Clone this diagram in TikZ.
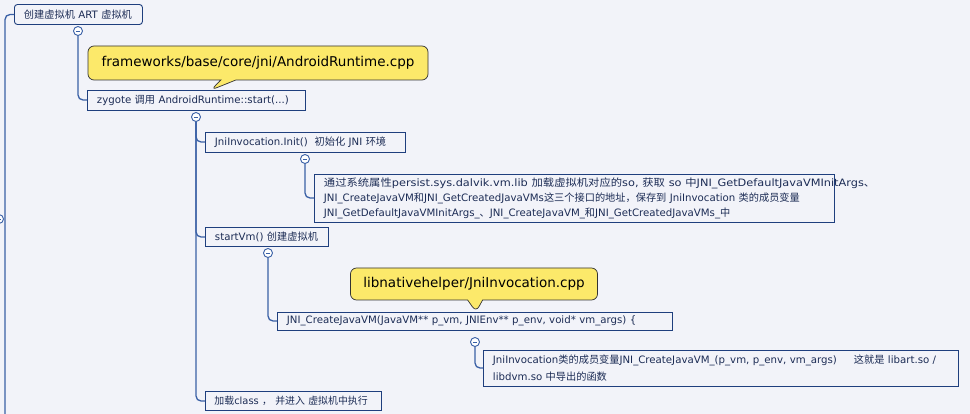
\documentclass[tikz,border=0pt]{standalone}
\usepackage{fontspec}
\setmainfont{DejaVu Sans}
\newfontfamily\cjk{Noto Sans CJK SC}
\usetikzlibrary{shapes.callouts}
\definecolor{bg}{HTML}{F2F3F9}
\definecolor{boxcol}{HTML}{1F3F7E}
\definecolor{linecol}{HTML}{3A60A6}
\definecolor{txtcol}{HTML}{1C2C55}
\definecolor{yel}{HTML}{FCE96A}
\tikzset{
  box/.style={draw=boxcol, line width=0.9pt, fill=bg, text=txtcol, anchor=west,
    inner xsep=9.5pt, inner ysep=0pt, align=left,
    font=\fontsize{10.2}{15}\selectfont},
  conn/.style={draw=linecol, line width=1.3pt, rounded corners=5pt},
  fold/.style={circle, draw=linecol, line width=0.9pt, fill=white, minimum size=9pt, inner sep=0pt,
    path picture={\draw[linecol, line width=0.8pt] ([xshift=-2.2pt]path picture bounding box.center) -- ([xshift=2.2pt]path picture bounding box.center);}},
  note/.style={rectangle callout, fill=yel, draw=black!80, line width=0.7pt, rounded corners=6pt,
    text=black, font=\fontsize{13.5}{16}\selectfont, inner xsep=0pt, inner ysep=0pt,
    callout pointer width=15pt}
}
\begin{document}
\begin{tikzpicture}[x=1pt,y=-1pt]
\fill[bg] (0,0) rectangle (970,414);
\useasboundingbox (0,0) rectangle (970,414);
% boxes
\node[box, rounded corners=3pt, minimum width=128pt, minimum height=20pt, text width=109pt] (root) at (14,14.5) {{\cjk 创建虚拟机} ART {\cjk 虚拟机}};
\node[box, minimum width=218pt, minimum height=20pt, text width=199pt] (zyg) at (87,100) {zygote {\cjk 调用} AndroidRuntime::start(...)};
\node[box, minimum width=200pt, minimum height=20pt, text width=181pt] (init) at (205,142) {JniInvocation.Init()\ \ {\cjk 初始化} JNI {\cjk 环境}};
\node[box, minimum width=520pt, minimum height=48pt, text width=501pt] (desc) at (314,198) {\scalebox{1.11}[1]{{\cjk 通过系统属性}persist.sys.dalvik.vm.lib {\cjk 加载虚拟机对应的}so, {\cjk 获取} so {\cjk 中}JNI\_GetDefaultJavaVMInitArgs{\cjk 、}}\\JNI\_CreateJavaVM{\cjk 和}JNI\_GetCreatedJavaVMs{\cjk 这三个接口的地址，保存到} JniInvocation {\cjk 类的成员变量}\\JNI\_GetDefaultJavaVMInitArgs\_{\cjk 、}JNI\_CreateJavaVM\_{\cjk 和}JNI\_GetCreatedJavaVMs\_{\cjk 中}};
\node[box, minimum width=123pt, minimum height=19pt, text width=104pt] (start) at (205,237) {startVm() {\cjk 创建虚拟机}};
\node[box, minimum width=395pt, minimum height=18pt, text width=376pt] (jnic) at (277,321) {JNI\_CreateJavaVM(JavaVM** p\_vm, JNIEnv** p\_env, void* vm\_args) \{};
\node[box, minimum width=475pt, minimum height=36pt, text width=456pt, font=\fontsize{10.2}{16.5}\selectfont] (jnii) at (483,368) {JniInvocation{\cjk 类的成员变量}JNI\_CreateJavaVM\_(p\_vm, p\_env, vm\_args)\ \ \ \ \ {\cjk 这就是} libart.so /\\libdvm.so {\cjk 中导出的函数}};
\node[box, minimum width=175pt, minimum height=19pt, text width=158pt, inner xsep=9pt, font=\fontsize{9.9}{15}\selectfont] (load) at (205,401) {{\cjk 加载}class {\cjk ，} {\cjk 并进入} {\cjk 虚拟机中执行}};
% fold circles
\node[fold] (c0) at (78,31) {};
\node[fold] (c1) at (196,117) {};
\node[fold] (c2) at (305,159) {};
\node[fold] (c3) at (268,253) {};
\node[fold] (c4) at (475,342) {};
\node[fold] (cl) at (-1,219) {};
\coordinate (lb) at (5,420);
% connectors
\draw[conn] (lb) |- (root.west);
\draw[conn] (c0.south) |- (zyg.west);
\draw[conn] (c1.south) |- (init.west);
\draw[conn] (c1.south) |- (start.west);
\draw[conn] (c1.south) |- (load.west);
\draw[conn] (c2.south) |- (desc.west);
\draw[conn] (c3.south) |- (jnic.west);
\draw[conn] (c4.south) |- (jnii.west);
% callouts
\coordinate (p1) at (211,90);
\coordinate (p2) at (476,312);
\node[note, minimum width=340pt, minimum height=34pt, callout absolute pointer={(p1)}] (n1) at (258,63) {frameworks/base/core/jni/AndroidRuntime.cpp};
\node[note, minimum width=247pt, minimum height=32pt, callout absolute pointer={(p2)}] (n2) at (474,284) {libnativehelper/JniInvocation.cpp};
\end{tikzpicture}
\end{document}
